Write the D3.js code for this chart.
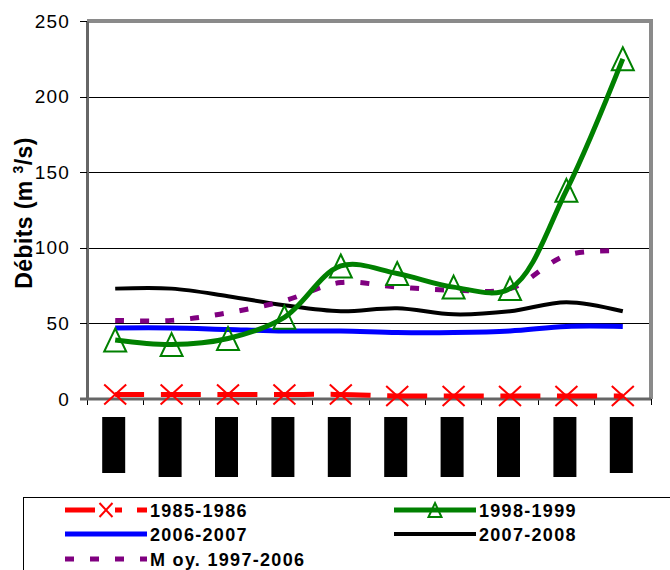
<!DOCTYPE html>
<html>
<head>
<meta charset="utf-8">
<script src="https://cdn.jsdelivr.net/npm/d3@7"></script>
<style>
  body { margin: 0; background: #fff; }
  svg { display: block; font-family: "Liberation Sans", Arial, sans-serif; }
</style>
</head>
<body>
<div id="chart"></div>
<script>
  'use strict';

  // Category keys (the axis labels are blacked out in the source picture).
  var categories = ['P1', 'P2', 'P3', 'P4', 'P5', 'P6', 'P7', 'P8', 'P9', 'P10'];
  var yTicks = [0, 50, 100, 150, 200, 250];

  var s1985 = [3, 3, 3, 3, 3, 2, 2, 2, 2, 2];
  var s1998 = [39, 36, 40, 54, 88, 83, 74, 73, 138, 225];
  var s2006 = [47, 47, 46, 45, 45, 44, 44, 45, 48, 48];
  var s2007 = [73, 73, 68, 62, 58, 60, 56, 58, 64, 58];
  var sMoy  = [52, 52, 57, 65, 77, 74, 72, 73, 95, 98];

  var width = 670, height = 570;
  var margin = {top: 21, right: 19, bottom: 171, left: 87};
  var chartW = width - margin.left - margin.right;
  var chartH = height - margin.top - margin.bottom;

  var svg = d3.select('#chart').append('svg')
      .attr('width', width)
      .attr('height', height);

  var inner = svg.append('g')
      .attr('transform', translation(margin.left, margin.top));

  var xScale = d3.scaleBand().domain(categories).range([0, chartW]);
  var yScale = d3.scaleLinear().domain([0, 250]).range([chartH, 0]);
  var xc = function(d, i) { return xScale(categories[i]) + xScale.bandwidth() / 2; };

  // Horizontal grid lines.
  inner.append('g')
      .call(d3.axisLeft(yScale).tickValues(yTicks.slice(1, -1)).tickSize(-chartW).tickFormat(''))
      .call(function(g) {
        g.select('.domain').remove();
        g.selectAll('line')
            .attr('stroke', '#000')
            .attr('stroke-width', 1)
            .attr('shape-rendering', 'crispEdges');
      });

  // Top and right frame.
  inner.append('path')
      .attr('d', 'M0,0H' + chartW + 'V' + chartH)
      .attr('fill', 'none')
      .attr('stroke', '#8a8a8a')
      .attr('stroke-width', 4);

  // y axis
  inner.append('g')
      .call(d3.axisLeft(yScale).tickValues(yTicks).tickSize(7).tickSizeOuter(0).tickPadding(10))
      .call(function(g) {
        g.select('.domain').attr('stroke', '#666').attr('stroke-width', 3);
        g.selectAll('line').attr('stroke', '#000').attr('shape-rendering', 'crispEdges');
        g.selectAll('text')
            .attr('font-size', 19)
            .attr('letter-spacing', 1.2)
            .attr('fill', '#000');
      });

  // x axis: ticks on category boundaries.
  var bounds = categories.map(function(c) { return xScale(c); }).concat([chartW]);
  var xAxisG = inner.append('g').attr('transform', translation(0, chartH));
  xAxisG.selectAll('line.tick')
      .data(bounds)
      .enter().append('line')
      .attr('x1', function(d) { return d; })
      .attr('x2', function(d) { return d; })
      .attr('y1', 0)
      .attr('y2', 6)
      .attr('stroke', '#000')
      .attr('shape-rendering', 'crispEdges');
  xAxisG.append('line')
      .attr('x1', -7).attr('x2', chartW)
      .attr('stroke', '#666')
      .attr('stroke-width', 3);

  // Redacted category labels (black blocks).
  xAxisG.selectAll('rect.lbl')
      .data(categories)
      .enter().append('rect')
      .attr('x', function(d, i) { return xc(d, i) - 13; })
      .attr('y', 18)
      .attr('width', 23)
      .attr('height', function(d, i) { return (i === 0 || i === categories.length - 1) ? 56 : 60; })
      .attr('fill', '#000');

  // Lines
  var line = d3.line()
      .x(function(d, i) { return xc(d, i); })
      .y(function(d) { return yScale(d); })
      .curve(d3.curveCatmullRom.alpha(0.5));

  var series = [
    {name: '1985-1986', values: s1985, color: '#ff0000', width: 5, dash: '40,16.6', offset: 11, marker: 'x'},
    {name: '2006-2007', values: s2006, color: '#0000ff', width: 5, dash: null},
    {name: '2007-2008', values: s2007, color: '#000000', width: 4, dash: null},
    {name: 'M oy. 1997-2006', values: sMoy, color: '#800080', width: 5, dash: '9,16'},
    {name: '1998-1999', values: s1998, color: '#008000', width: 5, dash: null, marker: 'tri'}
  ];

  series.forEach(function(s) {
    inner.append('path')
        .datum(s.values)
        .attr('d', line)
        .attr('fill', 'none')
        .attr('stroke', s.color)
        .attr('stroke-width', s.width)
        .attr('stroke-dasharray', s.dash)
        .attr('stroke-dashoffset', s.offset || 0);
  });

  series.forEach(function(s) {
    if (!s.marker) return;
    inner.selectAll(null)
        .data(s.values)
        .enter().append('path')
        .attr('transform', function(d, i) { return translation(xc(d, i), yScale(d)); })
        .attr('d', s.marker === 'x' ? crossPath(11, 10) : triPath(11, 11.5))
        .attr('fill', 'none')
        .attr('stroke', s.color)
        .attr('stroke-width', 2);
  });

  // y axis title
  var yt = svg.append('text')
      .attr('transform', 'translate(32,213) rotate(-90)')
      .attr('text-anchor', 'middle')
      .attr('font-size', 23)
      .attr('font-weight', 'bold')
      .attr('letter-spacing', 0.4)
      .attr('fill', '#000');
  yt.append('tspan').text('Débits (m ');
  yt.append('tspan').attr('font-size', 14).attr('dy', -9).text('3');
  yt.append('tspan').attr('dy', 9).text('/s)');

  // Legend
  svg.append('rect')
      .attr('x', 23.5).attr('y', 497.5)
      .attr('width', 700).attr('height', 120)
      .attr('fill', 'none')
      .attr('stroke', '#000');

  var legendItems = [
    {s: series[0], x: 65, y: 510},
    {s: series[4], x: 394, y: 510},
    {s: series[1], x: 65, y: 534},
    {s: series[2], x: 394, y: 534},
    {s: series[3], x: 65, y: 559}
  ];

  var lg = svg.append('g').selectAll('g')
      .data(legendItems)
      .enter().append('g')
      .attr('transform', function(d) { return translation(d.x, d.y); });

  lg.append('line')
      .attr('x1', 0).attr('x2', 82)
      .attr('stroke', function(d) { return d.s.color; })
      .attr('stroke-width', function(d) { return d.s.width; })
      .attr('stroke-dasharray', function(d) {
        if (d.s.marker === 'x') return '30,20,7,15,10';
        return d.s.dash;
      });

  lg.filter(function(d) { return d.s.marker; })
      .append('path')
      .attr('transform', 'translate(41,0)')
      .attr('d', function(d) { return d.s.marker === 'x' ? crossPath(6.5, 7) : triPath(6.5, 7); })
      .attr('fill', 'none')
      .attr('stroke', function(d) { return d.s.color; })
      .attr('stroke-width', 2);

  lg.append('text')
      .attr('x', 85)
      .attr('y', 7)
      .attr('font-size', 18)
      .attr('font-weight', 'bold')
      .attr('letter-spacing', 1.3)
      .attr('fill', '#000')
      .text(function(d) { return d.s.name; });

  /**
   * Small path helpers for the markers.
   */
  function crossPath(w, h) {
    return 'M' + (-w) + ',' + (-h) + 'L' + w + ',' + h + 'M' + (-w) + ',' + h + 'L' + w + ',' + (-h);
  }

  function triPath(w, h) {
    return 'M0,' + (-h) + 'L' + w + ',' + h + 'L' + (-w) + ',' + h + 'Z';
  }

  function translation(x, y) {
    return 'translate(' + x + ',' + y + ')';
  }
</script>
</body>
</html>
